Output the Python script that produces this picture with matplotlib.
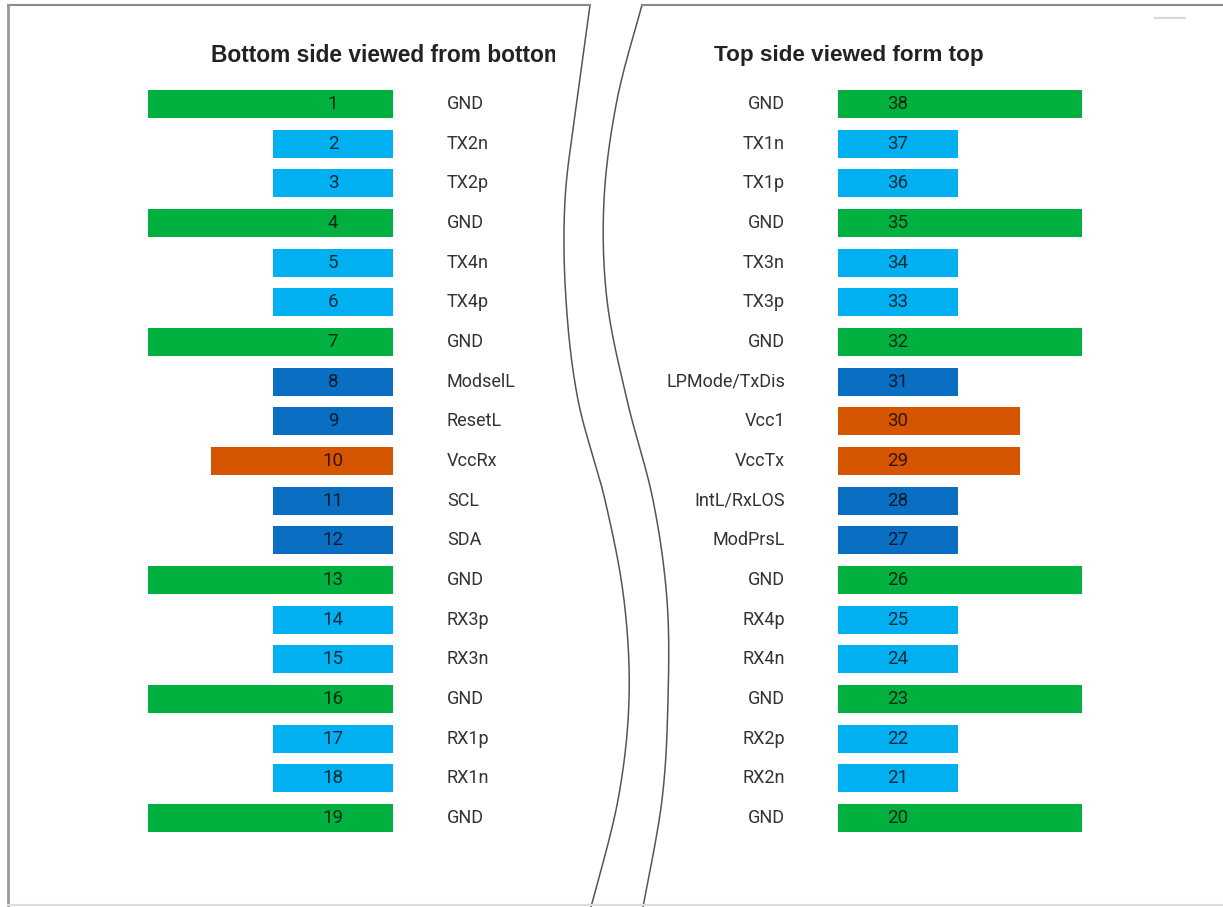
import numpy as np
from matplotlib import pyplot as plt
from matplotlib.transforms import Bbox, TransformedBbox

# lado de baixo (pinos 1-19) e lado de cima (pinos 38-20)
pinos_esq = list(range(1, 20))
nomes_esq = ["GND", "TX2n", "TX2p", "GND", "TX4n", "TX4p", "GND", "ModselL", "ResetL", "VccRx",
             "SCL", "SDA", "GND", "RX3p", "RX3n", "GND", "RX1p", "RX1n", "GND"]
tipos_esq = ["gnd", "hs", "hs", "gnd", "hs", "hs", "gnd", "ls", "ls", "pwr",
             "ls", "ls", "gnd", "hs", "hs", "gnd", "hs", "hs", "gnd"]
compr_esq = [2.04, 1, 1, 2.04, 1, 1, 2.04, 1, 1, 1.52, 1, 1, 2.04, 1, 1, 2.04, 1, 1, 2.04]

pinos_dir = list(range(38, 19, -1))
nomes_dir = ["GND", "TX1n", "TX1p", "GND", "TX3n", "TX3p", "GND", "LPMode/TxDis", "Vcc1", "VccTx",
             "IntL/RxLOS", "ModPrsL", "GND", "RX4p", "RX4n", "GND", "RX2p", "RX2n", "GND"]
tipos_dir = ["gnd", "hs", "hs", "gnd", "hs", "hs", "gnd", "ls", "pwr", "pwr",
             "ls", "ls", "gnd", "hs", "hs", "gnd", "hs", "hs", "gnd"]
compr_dir = [2.04, 1, 1, 2.04, 1, 1, 2.04, 1, 1.52, 1.52, 1, 1, 2.04, 1, 1, 2.04, 1, 1, 2.04]

titulo_esq = "Bottom side viewed from bottom"
titulo_dir = "Top side viewed form top"

cores = {"gnd": "#00b140", "hs": "#00b0f0", "ls": "#0a6fc2", "pwr": "#d65500"}
fonte_pino = ["Roboto", "DejaVu Sans"]

W, H = 1223, 907
fig = plt.figure(figsize=(W / 100, H / 100), dpi=100)
fig.patch.set_facecolor("white")

# eixo de fundo em pixeis para a moldura e as curvas
fundo = fig.add_axes([0, 0, 1, 1])
fundo.set_xlim(0, W)
fundo.set_ylim(H, 0)
fundo.axis("off")


def catmull(pontos, n=30):
    p = np.array(pontos, dtype=float)
    p = np.vstack([p[0], p, p[-1]])
    saida = []
    for i in range(1, len(p) - 2):
        p0, p1, p2, p3 = p[i - 1], p[i], p[i + 1], p[i + 2]
        for t in np.linspace(0, 1, n, endpoint=False):
            t2, t3 = t * t, t * t * t
            saida.append(0.5 * ((2 * p1) + (-p0 + p2) * t + (2 * p0 - 5 * p1 + 4 * p2 - p3) * t2
                                + (-p0 + 3 * p1 - 3 * p2 + p3) * t3))
    saida.append(p[-2])
    return np.array(saida)


curva_esq = catmull([(590, 5), (577, 100), (565, 200), (566, 300), (578, 400), (605, 500),
                     (624, 600), (629, 700), (618, 800), (591, 907)])
curva_dir = catmull([(642, 5), (617, 100), (604, 200), (607, 300), (627, 400), (653, 500),
                     (667, 600), (668, 700), (662, 800), (643, 907)])
fundo.plot(curva_esq[:, 0], curva_esq[:, 1], color="#555555", lw=1.1)
fundo.plot(curva_dir[:, 0], curva_dir[:, 1], color="#555555", lw=1.1)
fundo.plot([8, 590], [5, 5], color="#8a8a8a", lw=1.5)
fundo.plot([642, W], [5, 5], color="#8a8a8a", lw=1.5)
fundo.plot([8, 8], [5, H], color="#9a9a9a", lw=2)
fundo.plot([8, W], [905, 905], color="#dddddd", lw=1.5)
fundo.plot([1155, 1185], [18, 18], color="#d8d8d8", lw=1.5)

t1 = fundo.text(211, 55, titulo_esq, fontsize=16.4, fontweight="bold", family="Liberation Sans",
                color="#222222", va="center", ha="left", clip_on=True)
# o titulo da esquerda aparece cortado no "m" final
t1.set_clip_path(None)
t1.set_clip_box(TransformedBbox(Bbox([[0, 0], [555, H]]), fundo.transData))
fundo.text(714, 55, titulo_dir, fontsize=16.2, fontweight="bold", family="Liberation Sans",
           color="#222222", va="center", ha="left")

# linhas: pino 1 em y=104 px, pino 19 em y=818 px
passo = (818 - 104) / 18
ylim = (18 + (H - 818) / passo, -104 / passo)

# lado esquerdo: barras a crescer para a esquerda a partir de x=393
ax_e = fig.add_axes([0, 0, 1, 1])
ax_e.patch.set_alpha(0)
unid_e = 120
ax_e.set_xlim(393 / unid_e, (393 - W) / unid_e)
ax_e.set_ylim(*ylim)
ax_e.axis("off")
linhas = np.arange(len(pinos_esq))
ax_e.barh(linhas, compr_esq, height=0.706, color=[cores[t] for t in tipos_esq])
for i, (p, n) in enumerate(zip(pinos_esq, nomes_esq)):
    ax_e.text(0.5, i, str(p), ha="center", va="center", fontsize=13.5, family=fonte_pino,
              color="black", alpha=0.75)
    ax_e.text(-(447 - 393) / unid_e, i, n, ha="left", va="center", fontsize=13,
              family=fonte_pino, color="#333333")

# lado direito: barras a crescer para a direita a partir de x=838
ax_d = fig.add_axes([0, 0, 1, 1])
ax_d.patch.set_alpha(0)
unid_d = 119.5
ax_d.set_xlim(-838 / unid_d, (W - 838) / unid_d)
ax_d.set_ylim(*ylim)
ax_d.axis("off")
linhas = np.arange(len(pinos_dir))
ax_d.barh(linhas, compr_dir, height=0.706, color=[cores[t] for t in tipos_dir])
for i, (p, n) in enumerate(zip(pinos_dir, nomes_dir)):
    ax_d.text(0.5, i, str(p), ha="center", va="center", fontsize=13.5, family=fonte_pino,
              color="black", alpha=0.75)
    ax_d.text(-(838 - 785) / unid_d, i, n, ha="right", va="center", fontsize=13,
              family=fonte_pino, color="#333333")

fig.savefig("out.png", dpi=100)
